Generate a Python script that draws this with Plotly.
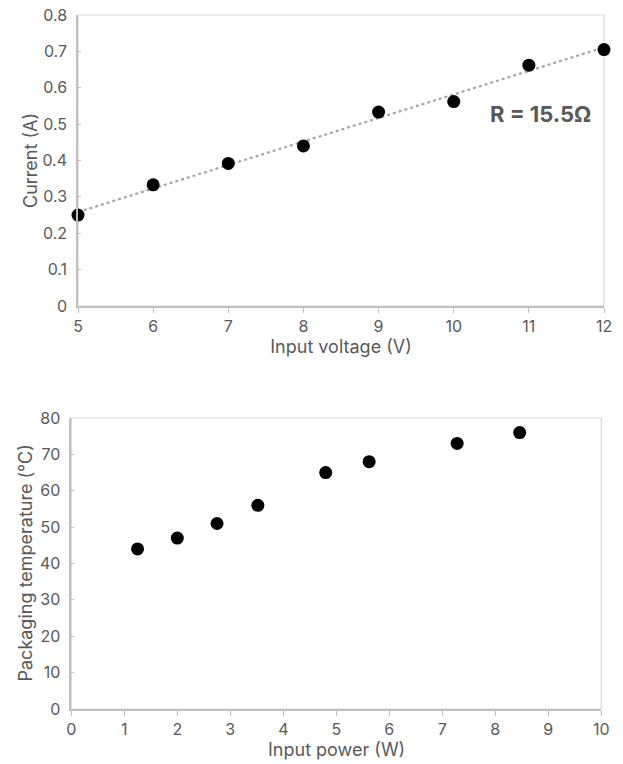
import numpy as np
import plotly.graph_objects as go

# Top chart data
voltage = [5, 6, 7, 8, 9, 10, 11, 12]
current = [0.25, 0.333, 0.392, 0.44, 0.533, 0.562, 0.662, 0.705]
# Bottom chart data
power = [1.25, 2.0, 2.75, 3.52, 4.8, 5.62, 7.28, 8.46]
temperature = [44, 47, 51, 56, 65, 68, 73, 76]

top_yticks = [0, 0.1, 0.2, 0.3, 0.4, 0.5, 0.6, 0.7, 0.8]
top_ytext = ["0", "0.1", "0.2", "0.3", "0.4", "0.5", "0.6", "0.7", "0.8"]

FONT = "Inter, Roboto, sans-serif"
TXT = "#595959"
AX = "#bfbfbf"
FR = "#d9d9d9"

# linear trendline
coef = np.polyfit(voltage, current, 1)
trend_x = [min(voltage), max(voltage)]
trend_y = [coef[0] * v + coef[1] for v in trend_x]

fig = go.Figure()
fig.add_trace(go.Scatter(x=trend_x, y=trend_y, mode="lines",
                         line=dict(color="#a6a6a6", width=2.2, dash="dot"),
                         xaxis="x", yaxis="y", showlegend=False))
fig.add_trace(go.Scatter(x=voltage, y=current, mode="markers",
                         marker=dict(color="black", size=13),
                         xaxis="x", yaxis="y", showlegend=False, cliponaxis=False))
fig.add_trace(go.Scatter(x=power, y=temperature, mode="markers",
                         marker=dict(color="black", size=13),
                         xaxis="x2", yaxis="y2", showlegend=False, cliponaxis=False))

# body margin is removed in the page (post_script), so the figure fills the window
OFF = 0
W, H = 623 - OFF, 764 - OFF
def dx(a, b):
    return [(a - OFF) / W, (b - OFF) / W]
def dy(top, bot):
    return [1 - (bot - OFF) / H, 1 - (top - OFF) / H]

common_x = dict(showgrid=False, zeroline=False, showline=True, linecolor=AX, linewidth=1.5,
                ticks="outside", ticklen=5, tickcolor=AX, tickwidth=1, automargin=False,
                ticklabeloverflow="allow",
                tickfont=dict(family=FONT, size=16, color=TXT),
                title_font=dict(family=FONT, size=18, color=TXT))
common_y = dict(showgrid=False, zeroline=False, showline=True, linecolor=AX, linewidth=1.5,
                ticks="inside", ticklen=3, tickcolor=AX, tickwidth=1, automargin=False,
                ticklabelstandoff=6, ticklabeloverflow="allow",
                tickfont=dict(family=FONT, size=16, color=TXT),
                title_font=dict(family=FONT, size=18, color=TXT))

fig.update_layout(
    width=W, height=H, margin=dict(l=0, r=0, t=0, b=0),
    paper_bgcolor="white", plot_bgcolor="white",
    xaxis=dict(domain=dx(78, 604), anchor="y", range=[5, 12], dtick=1,
               title=dict(text="Input voltage (V)", standoff=5), **common_x),
    yaxis=dict(domain=dy(15, 306), anchor="x", range=[0, 0.80001],
               tickvals=top_yticks, ticktext=top_ytext,
               title=dict(text="Current (A)", standoff=0), **common_y),
    xaxis2=dict(domain=dx(71.3, 601.3), anchor="y2", range=[0, 10], dtick=1, **common_x),
    yaxis2=dict(domain=dy(418, 709), anchor="x2", range=[0, 80], dtick=10, **common_y),
)

for xr, yr in (("x", "y"), ("x2", "y2")):
    fig.add_shape(type="rect", xref=f"{xr} domain", yref=f"{yr} domain",
                  x0=0, x1=1, y0=0, y1=1, line=dict(color=FR, width=1.2), layer="below")

fig.add_annotation(x=11.15, y=0.529, xref="x", yref="y", text="<b>R = 15.5Ω</b>",
                   showarrow=False, font=dict(family=FONT, size=22, color=TXT))

# bottom chart axis titles
fig.add_annotation(x=(336 - OFF) / W, y=1 - (749 - OFF) / H, xref="paper", yref="paper",
                   xanchor="center", yanchor="middle",
                   text="Input power (W)", showarrow=False,
                   font=dict(family=FONT, size=18, color=TXT))
fig.add_annotation(x=(25 - OFF) / W, y=1 - (563.5 - OFF) / H, xref="paper", yref="paper",
                   xanchor="center", yanchor="middle",
                   text="Packaging temperature (°C)", showarrow=False, textangle=-90,
                   font=dict(family=FONT, size=18, color=TXT))

fig.write_html("out.html", config={"displayModeBar": False},
               post_script="document.body.style.margin='0';document.body.style.overflow='hidden';")
